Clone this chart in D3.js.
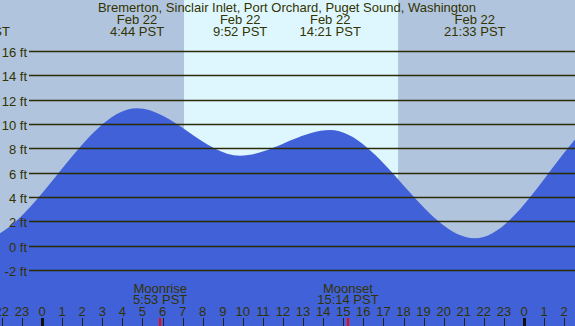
<!DOCTYPE html>
<html><head><meta charset="utf-8">
<script src="https://cdn.jsdelivr.net/npm/d3@7/dist/d3.min.js"></script>
<style>
html,body{margin:0;padding:0;background:#b0c4de;}
svg{display:block;}
text{font-family:"Liberation Sans",Arial,sans-serif;font-size:13px;fill:#333300;}
</style></head>
<body>
<svg id="c" width="575" height="326"></svg>
<script>
const title = "Bremerton, Sinclair Inlet, Port Orchard, Puget Sound, Washington";
// Tide extremes (hours from midnight Feb 22, PST); first and last lie off the visible window
const extremeHours = [-9.4, -3.13, 4.733, 9.867, 14.35, 21.55, 29.0, 35.5];
const extremeHeights = [9.4, 0.5, 11.3, 7.4, 9.5, 0.6, 11.5, 7.0];
const eventDates = ["Feb 21", "Feb 21", "Feb 22", "Feb 22", "Feb 22", "Feb 22", "Feb 23", "Feb 23"];
const eventTimes = ["14:36 PST", "20:52 PST", "4:44 PST", "9:52 PST", "14:21 PST", "21:33 PST", "5:00 PST", "11:30 PST"];
// Sun & moon
const sunriseHour = 7.07, sunsetHour = 17.73;
const moonEvents = ["Moonrise", "Moonset"];
const moonHours = [5.883, 15.233];
const moonTimes = ["5:53 PST", "15:14 PST"];
// Axes
const heightTicks = [-2, 0, 2, 4, 6, 8, 10, 12, 14, 16];
const hourTicks = d3.range(-2, 27);

const W = 575, H = 326;
const svg = d3.select("#c");
const x = d3.scaleLinear().domain([0, 24]).range([42, 524]);
const y = d3.scaleLinear().domain([-2, 16]).range([270, 51]);

// night background
svg.append("rect").attr("x", 0).attr("y", 0).attr("width", W).attr("height", H).attr("fill", "#b0c4de");
// daylight
svg.append("rect").attr("x", x(sunriseHour)).attr("y", 0)
  .attr("width", x(sunsetHour) - x(sunriseHour)).attr("height", H).attr("fill", "#def7ff");

// tide area
const pts = extremeHours.map((h, i) => [h, extremeHeights[i]]);
const area = d3.area().x(d => x(d[0])).y0(H).y1(d => y(d[1])).curve(d3.curveMonotoneX);
svg.append("path").datum(pts).attr("d", area).attr("fill", "#4161d9");

// grid lines and labels
heightTicks.forEach(v => {
  const yy = Math.round(y(v)) + 0.5;
  svg.append("line").attr("x1", 29).attr("x2", W).attr("y1", yy).attr("y2", yy)
    .attr("stroke", "#2b2b00").attr("stroke-width", 1.3);
  svg.append("text").attr("x", 27).attr("y", yy + 5).attr("text-anchor", "end").text(v + " ft");
});

// title
svg.append("text").attr("x", 287).attr("y", 12).attr("text-anchor", "middle").text(title);

// event labels
extremeHours.forEach((h, i) => {
  const xx = x(h);
  if (xx < -80 || xx > W + 80) return;
  svg.append("text").attr("x", xx).attr("y", 24).attr("text-anchor", "middle").text(eventDates[i]);
  svg.append("text").attr("x", xx).attr("y", 36).attr("text-anchor", "middle").text(eventTimes[i]);
});

// moon labels
moonHours.forEach((h, i) => {
  svg.append("text").attr("x", x(h)).attr("y", 293).attr("text-anchor", "middle").text(moonEvents[i]);
  svg.append("text").attr("x", x(h)).attr("y", 304).attr("text-anchor", "middle").text(moonTimes[i]);
});

// hour ticks
hourTicks.forEach(t => {
  const hh = ((t % 24) + 24) % 24;
  const xx = x(t);
  svg.append("text").attr("x", xx).attr("y", 316).attr("text-anchor", "middle").text(hh);
  if (hh === 0) {
    svg.append("rect").attr("x", Math.round(xx) - 1).attr("y", 318).attr("width", 3).attr("height", 8).attr("fill", "#111");
  } else {
    svg.append("line").attr("x1", Math.round(xx) + 0.5).attr("x2", Math.round(xx) + 0.5)
      .attr("y1", 318).attr("y2", H).attr("stroke", "#222").attr("stroke-width", 1);
  }
});
moonHours.forEach(h => {
  svg.append("rect").attr("x", Math.round(x(h)) - 1).attr("y", 318).attr("width", 2).attr("height", 8).attr("fill", "#ff0000");
});
</script>
</body></html>
